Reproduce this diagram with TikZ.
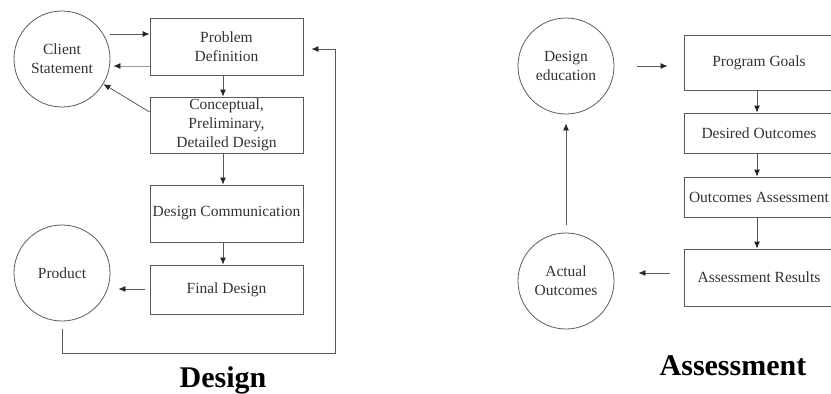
\documentclass[tikz,border=0pt]{standalone}
\usepackage{fontspec}
\setmainfont{Liberation Serif}
\usetikzlibrary{arrows.meta,calc}
\definecolor{ln}{HTML}{5A5A5A}
\definecolor{tx}{HTML}{333333}
\definecolor{lt}{HTML}{9A9A9A}
\begin{document}
\begin{tikzpicture}[x=1pt,y=-1pt,
  every node/.style={font=\fontsize{15.5}{19}\selectfont, text=tx},
  circ/.style={draw=ln, line width=0.8pt, circle, minimum size=96pt, inner sep=0pt, align=center},
  box/.style={draw=ln, line width=0.8pt, rectangle, inner sep=0pt, align=center},
  arr/.style={draw=ln, line width=0.8pt, -{Latex[length=7pt,width=6pt,color=black!85]}},
  title/.style={font=\fontsize{30}{34}\selectfont\bfseries, text=black, anchor=base}]
\useasboundingbox (0,0) rectangle (831,394);
\clip (0,0) rectangle (831,394);
% ---------- Design ----------
\node[circ] (CS) at (62,59) {Client\\Statement};
\node[box, minimum width=153pt, minimum height=57pt] (PD) at (226.5,46.5) {Problem\\Definition};
\node[box, minimum width=153pt, minimum height=56pt] (CP) at (226.5,125) {Conceptual,\\Preliminary,\\Detailed Design};
\node[box, minimum width=153pt, minimum height=57pt] (DC) at (226.5,213.5) {Design Communication};
\node[box, minimum width=153pt, minimum height=49pt] (FD) at (226.5,289.5) {Final Design};
\node[circ] (PR) at (62,273) {Product};
\node[title] (T1) at (223,387) {Design};

\draw[arr] (CS.east |- 0,34) -- (PD.west |- 0,34);
\draw[arr, draw=lt, shorten >=3pt] (PD.west |- 0,66) -- (CS.east |- 0,66);
\draw[arr] (CP.west |- 0,112) -- (CS);
\draw[arr] ($(PD.south)+(-3.5,0)$) -- ($(CP.north)+(-3.5,0)$);
\draw[arr] ($(CP.south)+(-3.5,0)$) -- ($(DC.north)+(-3.5,0)$);
\draw[arr] ($(DC.south)+(-3.5,0)$) -- ($(FD.north)+(-3.5,0)$);
\draw[arr, shorten <=5pt, shorten >=8pt] (FD.west |- 0,289) -- (PR.east |- 0,289);
\coordinate (fb) at (335,353);
\draw[arr] ($(PR.south)+(0,8)$) |- (fb) |- ($(PD.east |- 0,49)+(8,0)$);

% ---------- Assessment ----------
\node[circ] (DE) at (566,66) {Design\\education};
\node[box, minimum width=150pt, minimum height=55pt] (PG) at (759,62.5) {Program Goals};
\node[box, minimum width=150pt, minimum height=40pt] (DO) at (759,133) {Desired Outcomes};
\node[box, minimum width=150pt, minimum height=40pt] (OA) at (759,197) {Outcomes Assessment};
\node[box, minimum width=150pt, minimum height=57pt] (AR) at (759,277.5) {Assessment Results};
\node[circ] (AO) at (566,281) {Actual\\Outcomes};
\node[title] (T2) at (733,375) {Assessment};

\draw[arr, shorten <=23pt, shorten >=16pt] (DE.east |- 0,66) -- (PG.west |- 0,66);
\draw[arr] ($(PG.south)+(-2,0)$) -- ($(DO.north)+(-2,0)$);
\draw[arr] ($(DO.south)+(-2,0)$) -- ($(OA.north)+(-2,0)$);
\draw[arr] ($(OA.south)+(-2,0)$) -- ($(AR.north)+(-2,0)$);
\draw[arr, shorten <=14pt, shorten >=24pt] (AR.west |- 0,273) -- (AO.east |- 0,273);
\draw[arr, shorten <=8pt, shorten >=9pt] (AO.north) -- (DE.south);
\end{tikzpicture}
\end{document}
